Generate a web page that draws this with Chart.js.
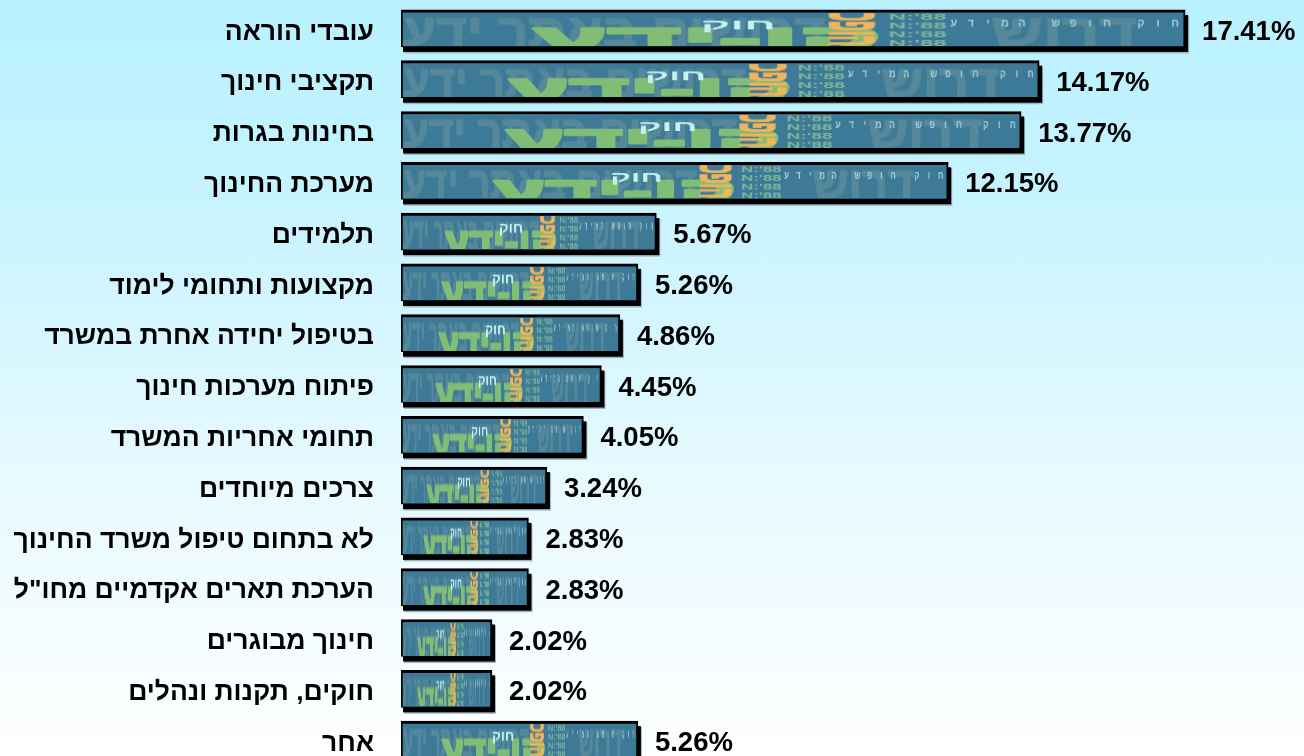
<!DOCTYPE html>
<html lang="he">
<head>
<meta charset="utf-8">
<script src="https://cdn.jsdelivr.net/npm/chart.js@4"></script>
<style>
html,body{margin:0;padding:0;width:1304px;height:756px;overflow:hidden;background:linear-gradient(180deg,#b9f1ff 0%,#c6f3ff 25%,#e4f9ff 60%,#ffffff 100%);}
#wrap{position:absolute;left:0;top:0;width:1304px;height:770px;}
canvas{filter:blur(0.35px);}
</style>
</head>
<body>
<div id="wrap"><canvas id="c"></canvas></div>
<script>
const categories = ['עובדי הוראה','תקציבי חינוך','בחינות בגרות','מערכת החינוך','תלמידים','מקצועות ותחומי לימוד','בטיפול יחידה אחרת במשרד','פיתוח מערכות חינוך','תחומי אחריות המשרד','צרכים מיוחדים','לא בתחום טיפול משרד החינוך','הערכת תארים אקדמיים מחו"ל','חינוך מבוגרים','חוקים, תקנות ונהלים','אחר'];
const percentages = [17.41,14.17,13.77,12.15,5.67,5.26,4.86,4.45,4.05,3.24,2.83,2.83,2.02,2.02,5.26];
const textureWords = {faint:'דרושים באתר ידע', faintRight:'דרוש', green:'קו-ידע', small:'חוק', orange:'הופכ', rows:"N:'88", strip:'חוק חופש המידע'};

const FONT = '"Liberation Sans", Arial, sans-serif';

function fit(g,text,x,w,base,size,heavy){
  g.save();
  g.font='bold '+size+'px '+FONT;g.textAlign='left';
  const m=g.measureText(text).width;
  g.translate(x,base);g.scale(w/m,1);
  if(heavy){g.strokeStyle=g.fillStyle;g.lineWidth=heavy;g.lineJoin='round';g.strokeText(text,0,0);}
  g.fillText(text,0,0);
  g.restore();
}
function buildTexture(){
  const W=776,H=34,t=document.createElement('canvas');
  t.width=W;t.height=H;
  const g=t.getContext('2d');
  g.fillStyle='#3d7a97';g.fillRect(0,0,W,H);
  g.textBaseline='alphabetic';
  g.fillStyle='#54889a';
  fit(g,textureWords.faint,0,420,34,46,1.5);
  fit(g,textureWords.faintRight,585,145,34,46,1.5);
  g.fillStyle='#82bd75';
  fit(g,textureWords.green,126,350,41,42,2.5);
  g.fillStyle='#c4f2f2';
  fit(g,textureWords.small,296,75,17,15);
  g.fillStyle='#f0b45a';
  g.save();g.translate(425,0);g.rotate(Math.PI/2);
  g.font='bold 30px '+FONT;g.textAlign='left';
  const ow=g.measureText(textureWords.orange).width;
  g.scale(34/ow,55/(0.78*30));
  g.strokeStyle='#f0b45a';g.lineWidth=1.2;g.strokeText(textureWords.orange,0,0);
  g.fillText(textureWords.orange,0,0);
  g.restore();
  g.fillStyle='#7fb59a';
  for(let r=0;r<4;r++) fit(g,textureWords.rows,483,58,7+r*9,9);
  g.fillStyle='#a5cfd5';
  g.font='bold 11px '+FONT;g.textAlign='center';
  const s=[...textureWords.strip];
  s.forEach((ch,i)=>{g.fillText(ch,768-i*(220/(s.length-1)),14);});
  return t;
}
const texture=buildTexture();

const barDecor={
  id:'barDecor',
  beforeDatasetDraw(chart){
    const ctx=chart.ctx;
    chart.getDatasetMeta(0).data.forEach(b=>{
      const y0=b.y-b.height/2;
      ctx.fillStyle='#9fb4bd';
      ctx.fillRect(b.base+3,y0+6,b.x-b.base+1,b.height+0.5);
      ctx.fillStyle='#000';
      ctx.fillRect(b.base+2,y0+5,b.x-b.base+1,b.height);
    });
  },
  afterDatasetDraw(chart){
    const ctx=chart.ctx;
    ctx.save();
    ctx.imageSmoothingEnabled=true;ctx.imageSmoothingQuality='high';
    chart.getDatasetMeta(0).data.forEach((b,i)=>{
      const y0=b.y-b.height/2;
      ctx.filter='blur(0.6px)';
      ctx.drawImage(texture,b.base+2,y0+3,b.x-b.base-4,b.height-4);
      ctx.filter='none';
      ctx.fillStyle='#000';
      ctx.font='bold 27.5px '+FONT;
      ctx.textAlign='left';ctx.textBaseline='middle';
      ctx.fillText(percentages[i].toFixed(2)+'%',b.x+17,b.y+4);
    });
    ctx.restore();
  }
};

new Chart(document.getElementById('c'),{
  type:'bar',
  data:{labels:categories,datasets:[{data:percentages,backgroundColor:'#3d7a97',borderColor:'#000',
    borderWidth:{top:3,left:2,right:2,bottom:1},borderSkipped:false,barThickness:37}]},
  plugins:[barDecor],
  options:{
    indexAxis:'y',responsive:true,maintainAspectRatio:false,animation:false,
    layout:{padding:{top:3,bottom:5,left:0,right:0}},
    plugins:{legend:{display:false},tooltip:{enabled:false}},
    scales:{
      x:{display:false,min:0,max:20.05},
      y:{grid:{display:false},border:{display:false},
        afterFit(s){s.width=401;s.paddingTop=0;s.paddingBottom=0;},
        ticks:{autoSkip:false,padding:19,color:'#000',
          callback(v,i){return ['',categories[i]];},
          font:{family:FONT,size:26.5,weight:'bold',lineHeight:0.3}}}
    }
  }
});
</script>
</body>
</html>
